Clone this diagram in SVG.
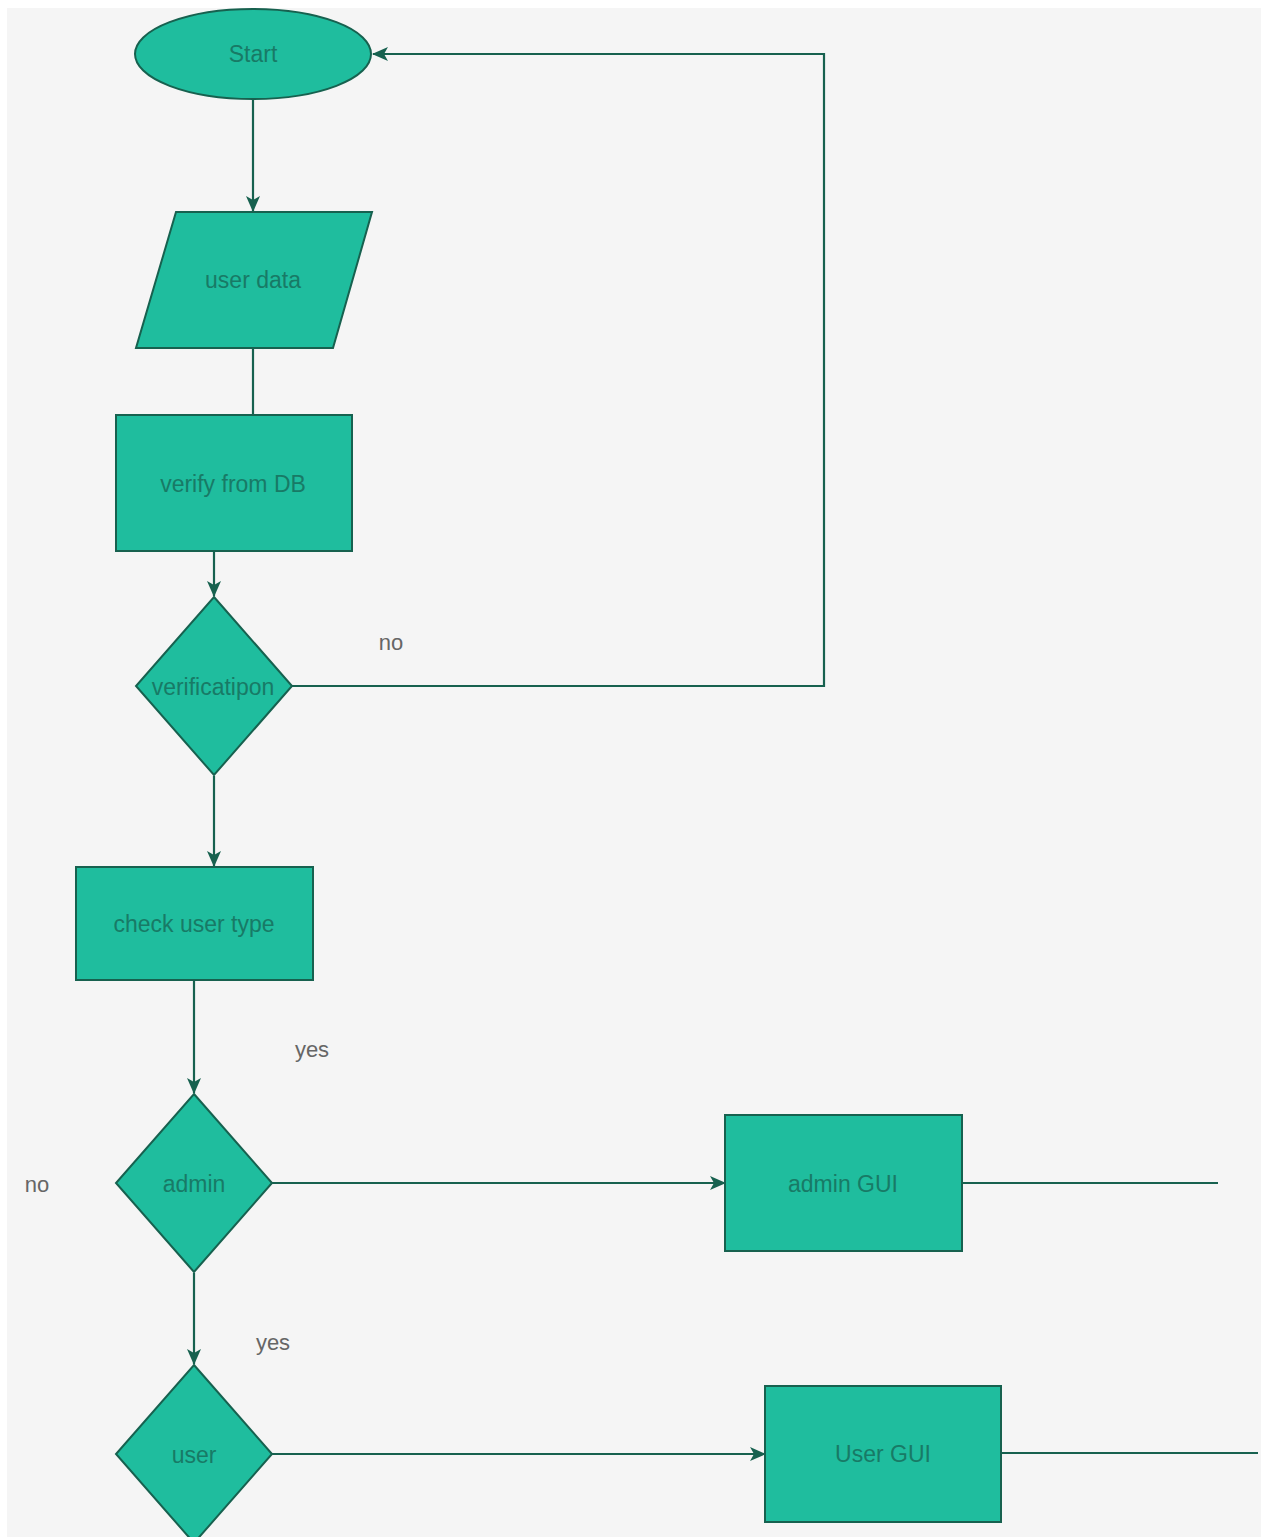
<svg xmlns="http://www.w3.org/2000/svg" width="1261" height="1537" viewBox="0 0 1261 1537">
<defs>
<style>
.n{fill:#1fbd9e;stroke:#17614f;stroke-width:2}
.t{font-family:"Liberation Sans",Arial,sans-serif;font-size:23px;fill:#187a66;text-anchor:middle;dominant-baseline:central}
.l{font-family:"Liberation Sans",Arial,sans-serif;font-size:22px;fill:#666;text-anchor:middle;dominant-baseline:central}
.c{fill:none;stroke:#17614f;stroke-width:2.2}
</style>
<marker id="a" viewBox="0 0 16 14" refX="15" refY="7" markerWidth="16" markerHeight="14" markerUnits="userSpaceOnUse" orient="auto">
<path d="M0,0 L16,7 L0,14 L4,7 z" fill="#17614f"/>
</marker>
</defs>
<rect x="0" y="0" width="1261" height="1537" fill="#ffffff"/>
<rect x="7" y="8" width="1254" height="1529" fill="#f5f5f5"/>
<g id="connectors">
<path class="c" d="M253,99 V211" marker-end="url(#a)"/>
<path class="c" d="M253,348 V415"/>
<path class="c" d="M214,551 V596" marker-end="url(#a)"/>
<path class="c" d="M292,686 H824 V54 H373" marker-end="url(#a)"/>
<path class="c" d="M214,776 V866" marker-end="url(#a)"/>
<path class="c" d="M194,980 V1093" marker-end="url(#a)"/>
<path class="c" d="M272,1183 H725" marker-end="url(#a)"/>
<path class="c" d="M962,1183 H1218"/>
<path class="c" d="M194,1273 V1364" marker-end="url(#a)"/>
<path class="c" d="M272,1454 H765" marker-end="url(#a)"/>
<path class="c" d="M1001,1453 H1258"/>
<text class="l" x="391" y="642">no</text>
<text class="l" x="312" y="1049">yes</text>
<text class="l" x="37" y="1184">no</text>
<text class="l" x="273" y="1342">yes</text>
</g>
<g id="start">
<ellipse class="n" cx="253" cy="54" rx="118" ry="45"/>
<text class="t" x="253" y="54">Start</text>
</g>
<g id="userdata">
<polygon class="n" points="176,212 372,212 333,348 136,348"/>
<text class="t" x="253" y="280">user data</text>
</g>
<g id="verify">
<rect class="n" x="116" y="415" width="236" height="136"/>
<text class="t" x="233" y="484">verify from DB</text>
</g>
<g id="verification">
<polygon class="n" points="214,597 292,686 214,775 136,686"/>
<text class="t" x="213" y="687">verificatipon</text>
</g>
<g id="checktype">
<rect class="n" x="76" y="867" width="237" height="113"/>
<text class="t" x="194" y="924">check user type</text>
</g>
<g id="admin">
<polygon class="n" points="194,1094 272,1183 194,1272 116,1183"/>
<text class="t" x="194" y="1184">admin</text>
</g>
<g id="admingui">
<rect class="n" x="725" y="1115" width="237" height="136"/>
<text class="t" x="843" y="1184">admin GUI</text>
</g>
<g id="user">
<polygon class="n" points="194,1365 272,1454 194,1543 116,1454"/>
<text class="t" x="194" y="1455">user</text>
</g>
<g id="usergui">
<rect class="n" x="765" y="1386" width="236" height="136"/>
<text class="t" x="883" y="1454">User GUI</text>
</g>
</svg>
